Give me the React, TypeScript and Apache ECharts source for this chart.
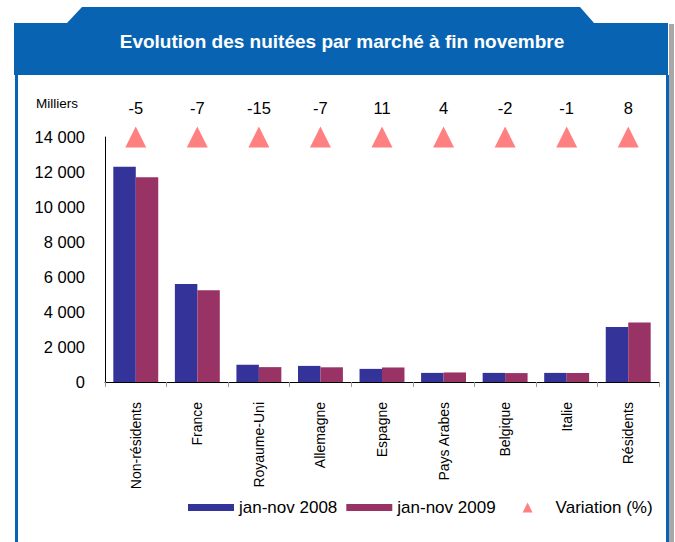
import React, { useEffect, useRef } from "react";
import * as echarts from "echarts";

const categories = [
  "Non-résidents",
  "France",
  "Royaume-Uni",
  "Allemagne",
  "Espagne",
  "Pays Arabes",
  "Belgique",
  "Italie",
  "Résidents",
];
const nuitees2008 = [12300, 5600, 980, 920, 750, 520, 520, 520, 3150];
const nuitees2009 = [11700, 5240, 850, 840, 830, 545, 510, 515, 3400];
const variation = [-5, -7, -15, -7, 11, 4, -2, -1, 8];
const variationMarkerLevel = 14000;
const yTicks = { min: 0, max: 14000, interval: 2000 };
const seriesNames = ["jan-nov 2008", "jan-nov 2009", "Variation (%)"];

const FONT = '"Liberation Sans", Arial, sans-serif';

function fmt(v: number): string {
  return String(v).replace(/\B(?=(\d{3})+(?!\d))/g, " ");
}

export default function App() {
  const ref = useRef<HTMLDivElement>(null);

  useEffect(() => {
    if (!ref.current) return;
    const chart = echarts.init(ref.current, null, { renderer: "svg" });
    const blue = "#0864b2";
    chart.setOption({
      animation: false,
      backgroundColor: "#ffffff",
      textStyle: { fontFamily: FONT },
      graphic: [
        {
          type: "polygon",
          shape: {
            points: [
              [14, 23],
              [67, 23],
              [82, 7],
              [580, 7],
              [594, 23],
              [668, 23],
              [668, 75],
              [14, 75],
            ],
          },
          style: { fill: blue },
          z: 1,
        },
        {
          type: "rect",
          shape: { x: 15, y: 75, width: 3, height: 467 },
          style: { fill: blue },
        },
        {
          type: "rect",
          shape: { x: 666, y: 75, width: 3, height: 467 },
          style: { fill: blue },
        },
        {
          type: "rect",
          shape: { x: 669, y: 24, width: 5, height: 518 },
          style: { fill: "#a8a8a8" },
        },
        {
          type: "text",
          x: 342,
          y: 41,
          style: {
            text: "Evolution des nuitées par marché à fin novembre",
            fill: "#ffffff",
            font: `bold 19px ${FONT}`,
            align: "center",
            verticalAlign: "middle",
          },
          z: 2,
        },
        {
          type: "text",
          x: 78,
          y: 103,
          style: {
            text: "Milliers",
            fill: "#000",
            font: `13.5px ${FONT}`,
            align: "right",
            verticalAlign: "middle",
          },
        },
      ],
      grid: { left: 105, right: 16, top: 137, bottom: 160, containLabel: false },
      legend: {
        left: 188,
        top: 499,
        padding: 0,
        itemGap: 9,
        itemWidth: 46,
        itemHeight: 10,
        textStyle: { fontSize: 17, color: "#000", fontFamily: FONT },
        data: [
          { name: seriesNames[0], icon: "path://M0,0M46,10M0,1.5H46V8.5H0Z" },
          { name: seriesNames[1], icon: "path://M0,0M46,10M0,1.5H46V8.5H0Z" },
          { name: seriesNames[2], icon: "path://M0,0M46,10M18,10L23,0L28,10Z" },
        ],
      },
      xAxis: {
        type: "category",
        data: categories,
        axisLine: { lineStyle: { color: "#000", width: 1 } },
        axisTick: { show: true, length: 5, lineStyle: { color: "#999" } },
        axisLabel: {
          rotate: 90,
          margin: 20,
          fontSize: 14,
          color: "#000",
          fontFamily: FONT,
          interval: 0,
        },
        splitLine: { show: false },
      },
      yAxis: {
        type: "value",
        min: yTicks.min,
        max: yTicks.max,
        interval: yTicks.interval,
        axisLine: { show: true, lineStyle: { color: "#000", width: 1 } },
        axisTick: { show: false },
        splitLine: { show: false },
        axisLabel: {
          margin: 20,
          fontSize: 16.5,
          color: "#000",
          fontFamily: FONT,
          formatter: (v: number) => fmt(v),
        },
      },
      series: [
        {
          name: seriesNames[0],
          type: "bar",
          data: nuitees2008,
          itemStyle: { color: "#333399" },
          barGap: "0%",
          barCategoryGap: "27%",
        },
        {
          name: seriesNames[1],
          type: "bar",
          data: nuitees2009,
          itemStyle: { color: "#993366" },
          barGap: "0%",
          barCategoryGap: "27%",
        },
        {
          name: seriesNames[2],
          type: "scatter",
          data: variation.map(() => variationMarkerLevel),
          symbol: "triangle",
          symbolSize: 21,
          clip: false,
          itemStyle: { color: "#ff8080", opacity: 1 },
          label: {
            show: true,
            position: "top",
            distance: 10,
            fontSize: 16.5,
            lineHeight: 17,
            color: "#000",
            fontFamily: FONT,
            formatter: (p: any) => String(variation[p.dataIndex]),
          },
          z: 5,
        },
      ],
    });
    return () => chart.dispose();
  }, []);

  return (
    <div
      ref={ref}
      style={{ position: "fixed", left: 0, top: 0, width: 675, height: 542 }}
    />
  );
}
